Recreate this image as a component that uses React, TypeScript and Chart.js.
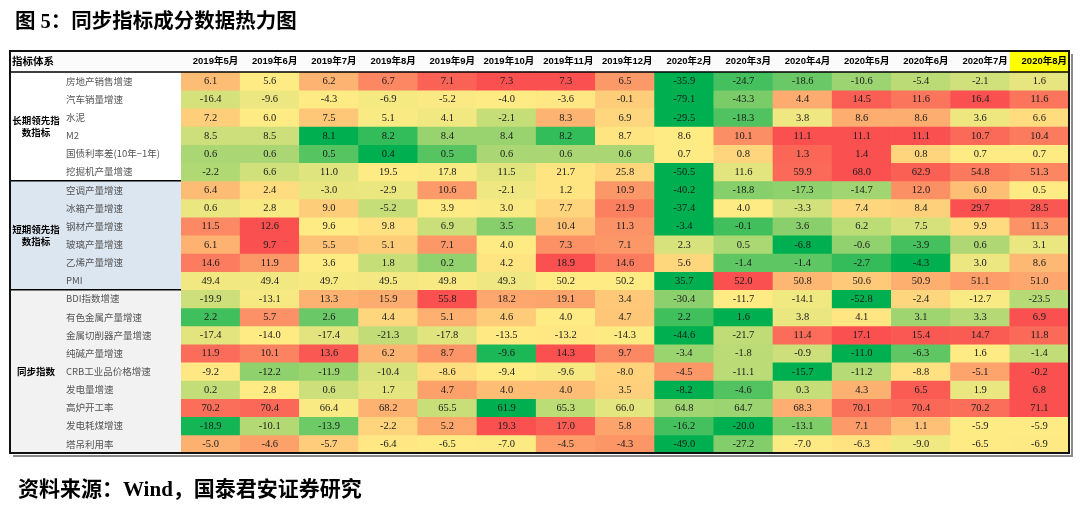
import React, { useEffect, useRef } from "react";
import { Chart, registerables } from "chart.js";

Chart.register(...registerables);

// ---------- data ----------
const months = [
  "2019年5月", "2019年6月", "2019年7月", "2019年8月", "2019年9月", "2019年10月",
  "2019年11月", "2019年12月", "2020年2月", "2020年3月", "2020年4月", "2020年5月",
  "2020年6月", "2020年7月", "2020年8月",
];

const indicatorNames = [
  "房地产销售增速", "汽车销量增速", "水泥", "M2", "国债利率差(10年−1年)", "挖掘机产量增速",
  "空调产量增速", "冰箱产量增速", "钢材产量增速", "玻璃产量增速", "乙烯产量增速", "PMI",
  "BDI指数增速", "有色金属产量增速", "金属切削器产量增速", "纯碱产量增速", "CRB工业品价格增速",
  "发电量增速", "高炉开工率", "发电耗煤增速", "塔吊利用率",
];

const groupLabelLines = [["长期领先指", "数指标"], ["短期领先指", "数指标"], ["同步指数"]];
const groupSizes = [6, 6, 9];

const housingSales = [6.1, 5.6, 6.2, 6.7, 7.1, 7.3, 7.3, 6.5, -35.9, -24.7, -18.6, -10.6, -5.4, -2.1, 1.6];
const autoSales = [-16.4, -9.6, -4.3, -6.9, -5.2, -4.0, -3.6, -0.1, -79.1, -43.3, 4.4, 14.5, 11.6, 16.4, 11.6];
const cement = [7.2, 6.0, 7.5, 5.1, 4.1, -2.1, 8.3, 6.9, -29.5, -18.3, 3.8, 8.6, 8.6, 3.6, 6.6];
const m2 = [8.5, 8.5, 8.1, 8.2, 8.4, 8.4, 8.2, 8.7, 8.6, 10.1, 11.1, 11.1, 11.1, 10.7, 10.4];
const bondSpread = [0.6, 0.6, 0.5, 0.4, 0.5, 0.6, 0.6, 0.6, 0.7, 0.8, 1.3, 1.4, 0.8, 0.7, 0.7];
const excavator = [-2.2, 6.6, 11.0, 19.5, 17.8, 11.5, 21.7, 25.8, -50.5, 11.6, 59.9, 68.0, 62.9, 54.8, 51.3];
const airCon = [6.4, 2.4, -3.0, -2.9, 10.6, -2.1, 1.2, 10.9, -40.2, -18.8, -17.3, -14.7, 12.0, 6.0, 0.5];
const fridge = [0.6, 2.8, 9.0, -5.2, 3.9, 3.0, 7.7, 21.9, -37.4, 4.0, -3.3, 7.4, 8.4, 29.7, 28.5];
const steel = [11.5, 12.6, 9.6, 9.8, 6.9, 3.5, 10.4, 11.3, -3.4, -0.1, 3.6, 6.2, 7.5, 9.9, 11.3];
const glass = [6.1, 9.7, 5.5, 5.1, 7.1, 4.0, 7.3, 7.1, 2.3, 0.5, -6.8, -0.6, -3.9, 0.6, 3.1];
const ethylene = [14.6, 11.9, 3.6, 1.8, 0.2, 4.2, 18.9, 14.6, 5.6, -1.4, -1.4, -2.7, -4.3, 3.0, 8.6];
const pmi = [49.4, 49.4, 49.7, 49.5, 49.8, 49.3, 50.2, 50.2, 35.7, 52.0, 50.8, 50.6, 50.9, 51.1, 51.0];
const bdi = [-19.9, -13.1, 13.3, 15.9, 55.8, 18.2, 19.1, 3.4, -30.4, -11.7, -14.1, -52.8, -2.4, -12.7, -23.5];
const nonFerrous = [2.2, 5.7, 2.6, 4.4, 5.1, 4.6, 4.0, 4.7, 2.2, 1.6, 3.8, 4.1, 3.1, 3.3, 6.9];
const metalCutting = [-17.4, -14.0, -17.4, -21.3, -17.8, -13.5, -13.2, -14.3, -44.6, -21.7, 11.4, 17.1, 15.4, 14.7, 11.8];
const sodaAsh = [11.9, 10.1, 13.6, 6.2, 8.7, -9.6, 14.3, 9.7, -3.4, -1.8, -0.9, -11.0, -6.3, 1.6, -1.4];
const crb = [-9.2, -12.2, -11.9, -10.4, -8.6, -9.4, -9.6, -8.0, -4.5, -11.1, -15.7, -11.2, -8.8, -5.1, -0.2];
const power = [0.2, 2.8, 0.6, 1.7, 4.7, 4.0, 4.0, 3.5, -8.2, -4.6, 0.3, 4.3, 6.5, 1.9, 6.8];
const blastFurnace = [70.2, 70.4, 66.4, 68.2, 65.5, 61.9, 65.3, 66.0, 64.8, 64.7, 68.3, 70.1, 70.4, 70.2, 71.1];
const coalUse = [-18.9, -10.1, -13.9, -2.2, 5.2, 19.3, 17.0, 5.8, -16.2, -20.0, -13.1, 7.1, 1.1, -5.9, -5.9];
const craneUse = [-5.0, -4.6, -5.7, -6.4, -6.5, -7.0, -4.5, -4.3, -49.0, -27.2, -7.0, -6.3, -9.0, -6.5, -6.9];

const rows = [
  housingSales, autoSales, cement, m2, bondSpread, excavator,
  airCon, fridge, steel, glass, ethylene, pmi,
  bdi, nonFerrous, metalCutting, sodaAsh, crb, power, blastFurnace, coalUse, craneUse,
];

// colour-scale anchors read from the picture where the row's own range
// (the source used a wider hidden range) does not explain the shading
const scaleMidOverride: (number | null)[] = [
  null, null, null, null, 0.7, null,
  null, null, null, null, null, null,
  null, null, null, null, null, null, 66.5, null, null,
];
const scaleMaxOverride: (number | null)[] = [
  null, null, 12.5, null, null, null,
  20, null, null, null, null, null,
  null, null, null, null, null, null, null, null, -2.5,
];

// ---------- styling ----------
const GREEN = [0, 176, 80];
const YELLOW = [255, 235, 132];
const RED = [250, 80, 80];

function lerp(a: number[], b: number[], t: number) {
  const tt = Math.max(0, Math.min(1, t));
  const c = a.map((v, i) => Math.round(v + (b[i] - v) * tt));
  return `rgb(${c[0]},${c[1]},${c[2]})`;
}

function heatColor(v: number, vals: number[], midO: number | null, maxO: number | null) {
  const s = [...vals].sort((a, b) => a - b);
  const min = s[0];
  const max = maxO ?? s[s.length - 1];
  const pos = (s.length - 1) * 0.5;
  const lo = Math.floor(pos);
  const mid = midO ?? s[lo] + (s[Math.ceil(pos)] - s[lo]) * (pos - lo);
  if (v <= mid) {
    const t = mid === min ? 1 : (v - min) / (mid - min);
    return lerp(GREEN, YELLOW, t);
  }
  const t = max === mid ? 0 : (v - mid) / (max - mid);
  return lerp(YELLOW, RED, t);
}

const CJK = '"Noto Sans CJK SC"';
const TABLE_LEFT = 10;
const COL_W = (1069 - 181) / months.length;

const tablePlugin = {
  id: "tableDecor",
  beforeDraw(chart: any) {
    const { ctx, chartArea: ca, scales } = chart;
    const y = scales.y;
    ctx.save();
    ctx.fillStyle = "#ffffff";
    ctx.fillRect(0, 0, chart.width, chart.height);
    ctx.fillStyle = "#fbfbfb";
    ctx.fillRect(TABLE_LEFT, 51, ca.right - TABLE_LEFT, ca.top - 51);
    const lastX = scales.x.getPixelForValue(months.length - 1);
    ctx.fillStyle = "#ffff00";
    ctx.fillRect(lastX - COL_W / 2, 51, ca.right - (lastX - COL_W / 2), ca.top - 51);
    const groupBg = ["#ffffff", "#dce6f1", "#f2f2f2"];
    let start = 0;
    groupSizes.forEach((n, g) => {
      const y0 = y.getPixelForValue(start);
      const y1 = y.getPixelForValue(start + n);
      ctx.fillStyle = groupBg[g];
      ctx.fillRect(TABLE_LEFT, y0, ca.left - TABLE_LEFT, y1 - y0);
      start += n;
    });
    ctx.restore();
  },
  afterDatasetsDraw(chart: any) {
    const { ctx } = chart;
    ctx.save();
    ctx.font = '10.5px "Liberation Serif"';
    ctx.fillStyle = "#1a1a1a";
    ctx.textAlign = "center";
    ctx.textBaseline = "middle";
    chart.data.datasets.forEach((ds: any, di: number) => {
      const meta = chart.getDatasetMeta(di);
      meta.data.forEach((el: any, i: number) => {
        const cy = (el.y + el.base) / 2;
        ctx.fillText(ds.values[i].toFixed(1), el.x, cy + 0.5);
      });
    });
    ctx.restore();
  },
  afterDraw(chart: any) {
    const { ctx, chartArea: ca, scales } = chart;
    const y = scales.y;
    ctx.save();
    ctx.font = `bold 10.5px ${CJK}`;
    ctx.fillStyle = "#000";
    ctx.textAlign = "left";
    ctx.textBaseline = "middle";
    ctx.fillText("指标体系", 12, 61.5);
    ctx.font = `bold 9.5px ${CJK}`;
    ctx.textAlign = "center";
    let start = 0;
    groupSizes.forEach((n, g) => {
      const y0 = y.getPixelForValue(start);
      const y1 = y.getPixelForValue(start + n);
      const lines = groupLabelLines[g];
      const cy = (y0 + y1) / 2;
      lines.forEach((ln, k) => {
        ctx.fillText(ln, 36, cy + (k - (lines.length - 1) / 2) * 12.5);
      });
      start += n;
    });
    ctx.strokeStyle = "#000";
    ctx.lineWidth = 1.5;
    ctx.beginPath();
    ctx.moveTo(TABLE_LEFT, ca.top);
    ctx.lineTo(ca.right, ca.top);
    start = 0;
    groupSizes.slice(0, -1).forEach((n) => {
      start += n;
      const yy = y.getPixelForValue(start);
      ctx.moveTo(TABLE_LEFT, yy);
      ctx.lineTo(ca.left, yy);
    });
    ctx.stroke();
    ctx.strokeStyle = "#8a8a8a";
    ctx.lineWidth = 2;
    ctx.beginPath();
    ctx.moveTo(ca.right + 3, 54);
    ctx.lineTo(ca.right + 3, ca.bottom + 3);
    ctx.lineTo(TABLE_LEFT + 3, ca.bottom + 3);
    ctx.stroke();
    ctx.strokeStyle = "#111";
    ctx.lineWidth = 2;
    ctx.strokeRect(TABLE_LEFT, 51, ca.right - TABLE_LEFT, ca.bottom - 51);
    ctx.fillStyle = "#000";
    ctx.textAlign = "left";
    ctx.textBaseline = "alphabetic";
    ctx.font = `bold 20.5px "Liberation Serif", ${CJK}`;
    ctx.fillText("图 5：同步指标成分数据热力图", 15, 28);
    ctx.font = `bold 21px "Liberation Serif", ${CJK}`;
    ctx.fillText("资料来源：Wind，国泰君安证券研究", 18, 496);
    ctx.restore();
  },
};

export default function App() {
  const ref = useRef<HTMLCanvasElement | null>(null);

  useEffect(() => {
    if (!ref.current) return;
    const datasets = rows.map((vals, r) => ({
      label: indicatorNames[r],
      data: vals.map(() => [r, r + 1]),
      values: vals,
      backgroundColor: vals.map((v) => heatColor(v, vals, scaleMidOverride[r], scaleMaxOverride[r])),
      borderWidth: 0,
      grouped: false,
      barPercentage: 1,
      categoryPercentage: 1,
    }));
    const chart = new Chart(ref.current, {
      type: "bar",
      data: { labels: months, datasets: datasets as any },
      options: {
        responsive: false,
        devicePixelRatio: 1,
        animation: false,
        layout: { padding: { left: 66, top: 51, right: 11, bottom: 54 } },
        plugins: { legend: { display: false }, tooltip: { enabled: false }, title: { display: false } },
        scales: {
          x: {
            type: "category",
            position: "top",
            offset: true,
            grid: { display: false, drawTicks: false },
            border: { display: false },
            ticks: {
              autoSkip: false,
              maxRotation: 0,
              align: "end",
              labelOffset: COL_W / 2 - 2,
              padding: 5,
              color: "#000",
              font: { family: `"Liberation Sans", ${CJK}`, size: 9.5, weight: "bold" },
            },
            afterFit: (s: any) => { s.height = 21; },
          },
          y: {
            type: "linear",
            position: "left",
            reverse: true,
            min: 0,
            max: indicatorNames.length,
            grid: { display: false, drawTicks: false },
            border: { display: false },
            afterBuildTicks: (axis: any) => {
              axis.ticks = indicatorNames.map((_, i) => ({ value: i + 0.5 }));
            },
            ticks: {
              autoSkip: false,
              crossAlign: "far",
              padding: 0,
              color: "#555",
              font: { family: CJK, size: 9.5 },
              callback: (_v: any, i: number) => indicatorNames[i],
            },
            afterFit: (s: any) => { s.width = 115; },
          },
        },
      } as any,
      plugins: [tablePlugin],
    });
    return () => chart.destroy();
  }, []);

  return (
    <div style={{ position: "fixed", left: 0, top: 0, width: 1080, height: 507, background: "#fff" }}>
      <canvas ref={ref} width={1080} height={507} style={{ display: "block" }} />
    </div>
  );
}
